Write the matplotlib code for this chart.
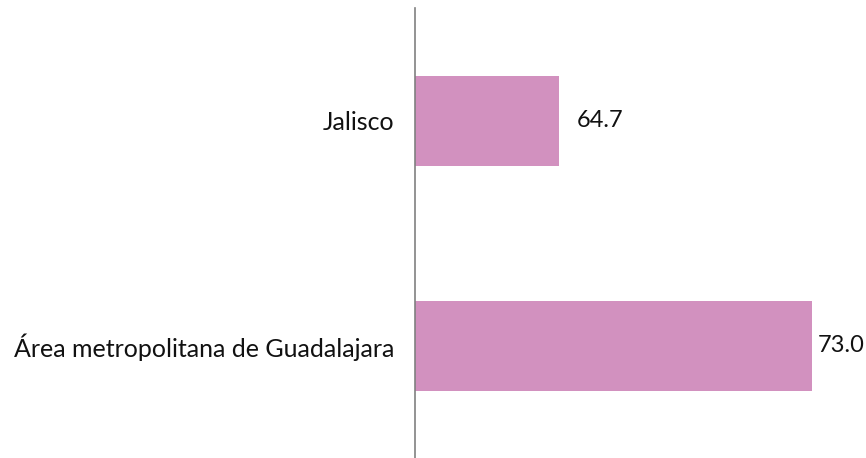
import matplotlib
matplotlib.use("Agg")
import matplotlib.pyplot as plt

categories = ["Jalisco", "Área metropolitana de Guadalajara"]
values = [64.7, 73.0]
value_labels = ["64.7", "73.0"]

plt.rcParams['font.family'] = ['Lato', 'DejaVu Sans']

fig = plt.figure(figsize=(8.66, 4.58), dpi=100)
ax = fig.add_axes([415/866, 0, 1 - 415/866, 450/458])

y = list(range(len(categories)))
ax.barh(y, values, height=0.4, color="#D291BF", left=0)
ax.set_xlim(60, 74.75)
ax.set_ylim(1.5, -0.5)

ax.set_yticks(y)
ax.set_yticklabels(categories, fontsize=18, color="#111111")
ax.tick_params(axis='y', length=0, pad=15)
ax.set_xticks([])

for s in ["top", "right", "bottom"]:
    ax.spines[s].set_visible(False)
ax.spines["left"].set_color("#808080")
ax.spines["left"].set_linewidth(1.2)

offsets = [13, 4]
for yi, v, lab, off in zip(y, values, value_labels, offsets):
    ax.annotate(lab, (v, yi), xytext=(off, 0), textcoords="offset points",
                va="center", ha="left", fontsize=17, color="#111111")

fig.savefig("out.png", dpi=100)
